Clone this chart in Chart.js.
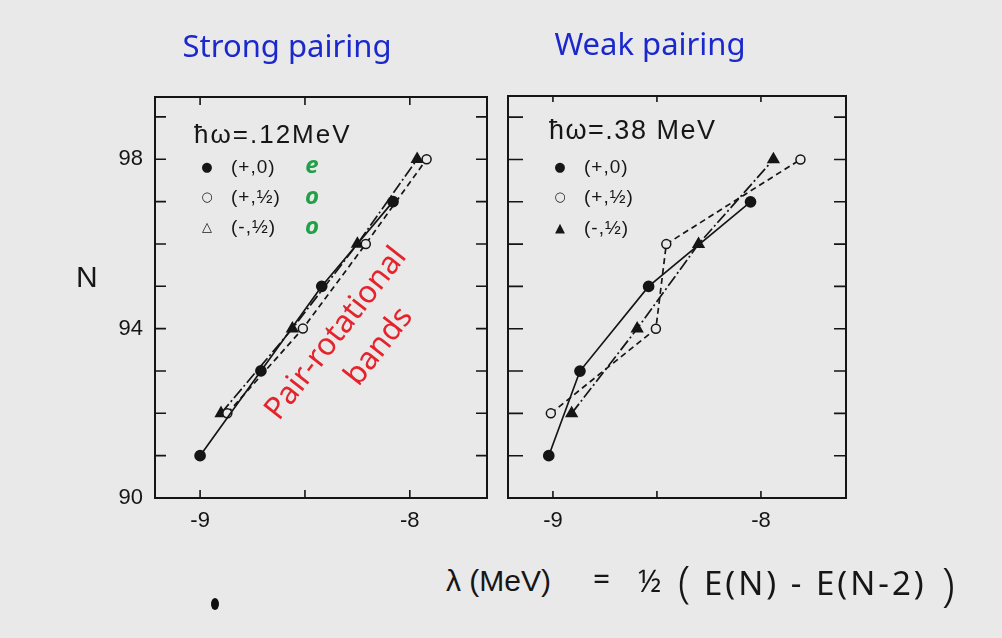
<!DOCTYPE html>
<html>
<head>
<meta charset="utf-8">
<script src="https://cdn.jsdelivr.net/npm/chart.js@4.4.1/dist/chart.umd.min.js"></script>
<style>
  body { margin: 0; background: #e9e9e9; }
  #page { position: relative; width: 1002px; height: 638px; overflow: hidden; background: #e9e9e9; }
  canvas { position: absolute; top: 0; }
  .t { position: absolute; white-space: pre; line-height: 1; }
  .title { font-family: "Noto Sans", sans-serif; font-size: 31px; color: #1b28cc; transform: translate(-50%, -50%); }
  .hw { font-family: "Liberation Sans", sans-serif; color: #161616; transform: translateY(-50%); }
  .leg { font-family: "Liberation Sans", sans-serif; font-size: 19px; color: #161616; transform: translateY(-50%); letter-spacing: 1px; }
  .mk { font-family: "DejaVu Sans", sans-serif; font-size: 13px; color: #161616; transform: translate(-50%, -50%); }
  .green { font-family: "Noto Sans", sans-serif; font-style: italic; font-weight: bold; font-size: 24px; color: #22a048; transform: translate(-50%, -50%); }
  .red { font-family: "Noto Sans", sans-serif; font-size: 31px; color: #e5232b; transform: translate(-50%, -50%) rotate(-52deg); }
  .f { font-family: "Liberation Sans", sans-serif; font-size: 30px; color: #161616; transform: translateY(-50%); }
  .fh { font-family: "Noto Sans", sans-serif; font-size: 30px; color: #161616; transform: translateY(-50%); }
</style>
</head>
<body>
<div id="page">
  <canvas id="strong" width="500" height="560" style="left:0px"></canvas>
  <canvas id="weak" width="502" height="560" style="left:500px"></canvas>

  <div class="t title" style="left:287px; top:45px">Strong pairing</div>
  <div class="t title" style="left:650px; top:43px">Weak pairing</div>

  <div class="t hw" style="left:194px; top:134px; font-size:26px; letter-spacing:2px">ħω=.12MeV</div>
  <div class="t mk" style="left:207px; top:166px">●</div>
  <div class="t leg" style="left:231px; top:166px">(+,0)</div>
  <div class="t mk" style="left:207px; top:196px">○</div>
  <div class="t leg" style="left:231px; top:196px">(+,½)</div>
  <div class="t mk" style="left:207px; top:226px">△</div>
  <div class="t leg" style="left:231px; top:226px">(-,½)</div>
  <div class="t green" style="left:312px; top:164px">e</div>
  <div class="t green" style="left:312px; top:195px">o</div>
  <div class="t green" style="left:312px; top:225px">o</div>

  <div class="t hw" style="left:549px; top:130px; font-size:27px; letter-spacing:1.5px">ħω=.38 MeV</div>
  <div class="t mk" style="left:560px; top:166px">●</div>
  <div class="t leg" style="left:584px; top:166px">(+,0)</div>
  <div class="t mk" style="left:560px; top:196px">○</div>
  <div class="t leg" style="left:584px; top:196px">(+,½)</div>
  <div class="t mk" style="left:560px; top:227px">▲</div>
  <div class="t leg" style="left:584px; top:227px">(-,½)</div>

  <div class="t red" style="left:334px; top:332px">Pair-rotational</div>
  <div class="t red" style="left:377px; top:345px">bands</div>

  <div class="t" style="left:76px; top:262px; font-family:'Liberation Sans',sans-serif; font-size:30px; color:#161616">N</div>

  <div class="t f" style="left:446px; top:581px">λ (MeV)</div>
  <div class="t fh" style="left:593px; top:579px">=</div>
  <div class="t fh" style="left:638px; top:581px">½</div>
  <div class="t fh" style="left:678px; top:581px; font-size:44px; font-weight:300">(</div>
  <div class="t fh" style="left:704px; top:582px; font-size:33px; letter-spacing:3px">E(N) - E(N-2)</div>
  <div class="t fh" style="left:942px; top:583px; font-size:46px; font-weight:300">)</div>

  <div style="position:absolute; left:211px; top:598px; width:8px; height:12px; border-radius:50%; background:#111"></div>
</div>

<script>
// N values: (+,0) sits on the odd rows, the two (.,1/2) bands on the even ones
var nPlus0 = [91, 93, 95, 97];
var nHalf = [92, 94, 96, 98];

// lambda (MeV)
var strongPlus0 = [-9.00, -8.71, -8.42, -8.08];
var strongPlusHalf = [-8.87, -8.51, -8.21, -7.92];
var strongMinusHalf = [-8.90, -8.56, -8.25, -7.965];

var weakPlus0 = [-9.02, -8.87, -8.54, -8.05];
var weakPlusHalf = [-9.01, -8.505, -8.455, -7.81];
var weakMinusHalf = [-8.91, -8.595, -8.30, -7.94];

// tick labels and tick marks
var yTickLabels = [90, 94, 98];
var xTickLabels = [-9, -8];
var yTickMarks = [91, 92, 93, 94, 95, 96, 97, 98, 99];
var xTickMarks = [-9, -8.5, -8];

var bg = '#e9e9e9';
var ink = '#151515';

// draws the box and the inward ticks through the chart scales
var framePlugin = {
  id: 'frame',
  afterDraw: function(chart, args, opts) {
    var ctx = chart.ctx;
    var a = chart.chartArea;
    var xs = chart.scales.x, ys = chart.scales.y;
    ctx.save();
    ctx.strokeStyle = ink;
    ctx.lineWidth = 2;
    ctx.strokeRect(a.left, a.top, a.right - a.left, a.bottom - a.top);
    ctx.lineWidth = 1.6;
    ctx.beginPath();
    yTickMarks.forEach(function(v) {
      var py = ys.getPixelForValue(v);
      ctx.moveTo(a.left, py); ctx.lineTo(a.left + opts.left, py);
      ctx.moveTo(a.right, py); ctx.lineTo(a.right - opts.right, py);
    });
    xTickMarks.forEach(function(v) {
      var px = xs.getPixelForValue(v);
      ctx.moveTo(px, a.top); ctx.lineTo(px, a.top + opts.top);
      ctx.moveTo(px, a.bottom); ctx.lineTo(px, a.bottom - opts.bottom);
    });
    ctx.stroke();
    ctx.restore();
  }
};

function pts(xs, ns) {
  return ns.map(function(n, i) { return { x: xs[i], y: n }; });
}

function makeDatasets(plus0, plusHalf, minusHalf) {
  return [
    {
      data: pts(plus0, nPlus0), showLine: true,
      borderColor: ink, borderWidth: 1.7,
      pointStyle: 'circle', pointRadius: 5,
      pointBackgroundColor: ink, pointBorderColor: ink
    },
    {
      data: pts(plusHalf, nHalf), showLine: true,
      borderColor: ink, borderWidth: 1.7, borderDash: [6, 4],
      pointStyle: 'circle', pointRadius: 4.5, pointBorderWidth: 1.5,
      pointBackgroundColor: bg, pointBorderColor: ink
    },
    {
      data: pts(minusHalf, nHalf), showLine: true,
      borderColor: ink, borderWidth: 1.7, borderDash: [12, 3, 2, 3],
      pointStyle: 'triangle', pointRadius: 6,
      pointBackgroundColor: ink, pointBorderColor: ink
    }
  ];
}

function makeChart(id, datasets, cfg) {
  var tickFont = { family: 'Liberation Sans', size: 22 };
  return new Chart(document.getElementById(id), {
    type: 'scatter',
    data: { datasets: datasets },
    plugins: [framePlugin],
    options: {
      responsive: false,
      animation: false,
      layout: { padding: { top: cfg.top, right: cfg.right, left: 0, bottom: 0 } },
      scales: {
        x: {
          type: 'linear', min: cfg.xMin, max: cfg.xMax,
          grid: { display: false, drawTicks: false },
          border: { display: false },
          afterBuildTicks: function(s) { s.ticks = xTickLabels.map(function(v) { return { value: v }; }); },
          afterFit: function(s) { s.height = 62; },
          ticks: { font: tickFont, color: ink, padding: 10, maxRotation: 0,
                   callback: function(v) { return String(v); } }
        },
        y: {
          type: 'linear', min: 90, max: cfg.yMax,
          grid: { display: false, drawTicks: false },
          border: { display: false },
          afterBuildTicks: function(s) { s.ticks = yTickLabels.map(function(v) { return { value: v }; }); },
          afterFit: function(s) { s.width = cfg.yWidth; },
          ticks: { font: tickFont, color: ink, padding: 12, display: cfg.yLabels,
                   callback: function(v) { return String(v); } }
        }
      },
      plugins: {
        legend: { display: false },
        tooltip: { enabled: false },
        frame: cfg.ticks
      }
    }
  });
}

makeChart('strong', makeDatasets(strongPlus0, strongPlusHalf, strongMinusHalf), {
  top: 97, right: 13, yWidth: 155, yLabels: true,
  xMin: -9.215, xMax: -7.632, yMax: 99.47,
  ticks: { left: 11, right: 11, top: 8, bottom: 8 }
});

makeChart('weak', makeDatasets(weakPlus0, weakPlusHalf, weakMinusHalf), {
  top: 96, right: 156, yWidth: 8, yLabels: false,
  xMin: -9.216, xMax: -7.591, yMax: 99.5,
  ticks: { left: 15, right: 12, top: 6, bottom: 7 }
});
</script>
</body>
</html>
